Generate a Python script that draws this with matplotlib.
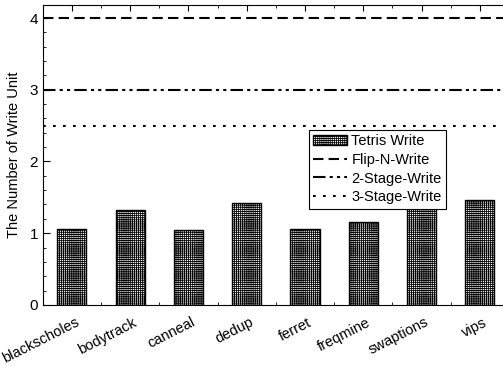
import matplotlib
matplotlib.use("Agg")
import matplotlib.pyplot as plt
from matplotlib.ticker import MultipleLocator, FixedLocator

plt.rcParams['font.family'] = ['Liberation Sans', 'DejaVu Sans']
plt.rcParams['hatch.linewidth'] = 0.6
plt.rcParams['hatch.color'] = '#444444'

benchmarks = ['blackscholes', 'bodytrack', 'canneal', 'dedup',
              'ferret', 'freqmine', 'swaptions', 'vips']
tetris = [1.06, 1.33, 1.04, 1.42, 1.06, 1.16, 1.34, 1.46]
flip_n_write = 4
two_stage = 3
three_stage = 2.5

fig = plt.figure(figsize=(5.03, 3.66), dpi=100)
ax = fig.add_axes([0.085, 0.167, 0.927, 0.819])

x = list(range(len(benchmarks)))
bars = ax.bar(x, tetris, width=0.5, facecolor='white', edgecolor='black',
              linewidth=1.0, hatch='++++++++', label='Tetris Write', zorder=2)

l1 = ax.axhline(flip_n_write, color='black', lw=1.5, ls=(0, (5, 2.5)), label='Flip-N-Write')
l2 = ax.axhline(two_stage, color='black', lw=1.5, ls=(0, (6, 2, 1.5, 2, 1.5, 2)), label='2-Stage-Write')
l3 = ax.axhline(three_stage, color='black', lw=1.5, ls=(0, (1.3, 3.5)), label='3-Stage-Write')

ax.set_xlim(-0.5, len(benchmarks) - 0.5)
ax.set_ylim(0, 4.18)
ax.set_xticks(x)
ax.set_xticklabels([])
# slanted category names, right end just past each tick
for i, name in enumerate(benchmarks):
    ax.annotate(name, xy=(i, 0), xycoords=('data', 'axes fraction'),
                xytext=(2, -7.5), textcoords='offset points',
                rotation=27, rotation_mode='anchor', ha='right', va='top',
                fontsize=10.5, annotation_clip=False)

ax.xaxis.set_minor_locator(FixedLocator([i + 0.5 for i in range(-1, len(benchmarks))]))
ax.yaxis.set_major_locator(MultipleLocator(1))
ax.yaxis.set_minor_locator(MultipleLocator(0.2))
ax.tick_params(axis='both', which='both', direction='in', top=True, right=False,
               labelsize=11)
ax.tick_params(axis='x', which='major', length=4)
ax.tick_params(axis='x', which='minor', length=2.5)
ax.tick_params(axis='y', which='major', length=5)
ax.tick_params(axis='y', which='minor', length=2.5)
ax.set_ylabel('The Number of Write Unit', fontsize=10.5, labelpad=6)

leg = ax.legend([bars, l1, l2, l3],
                ['Tetris Write', 'Flip-N-Write', '2-Stage-Write', '3-Stage-Write'],
                loc='upper left', bbox_to_anchor=(0.571, 0.585), fontsize=10.5,
                frameon=True, fancybox=False, edgecolor='black', framealpha=1,
                handlelength=2.3, handletextpad=0.3, borderpad=0.3,
                labelspacing=0.33, borderaxespad=0)
leg.get_frame().set_linewidth(0.8)

fig.savefig('out.png', dpi=100)
